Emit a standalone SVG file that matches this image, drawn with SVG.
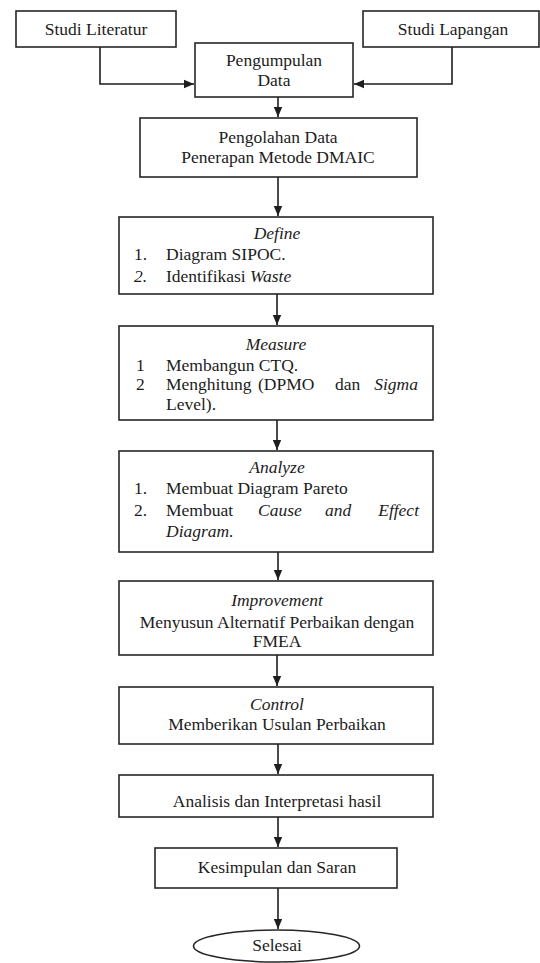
<svg xmlns="http://www.w3.org/2000/svg" width="540" height="963" viewBox="0 0 540 963">
  <style>
    .box { fill: #ffffff; stroke: #262626; stroke-width: 1.6; }
    .t { font-size: 17.5px; fill: #1c1c1c; }
    .c { text-anchor: middle; }
    .e { text-anchor: end; }
    .i { font-style: italic; }
    .conn { fill: none; stroke: #1e1e1e; stroke-width: 1.6; marker-end: url(#arrow); }
  </style>
  <defs>
    <marker id="arrow" markerUnits="userSpaceOnUse" markerWidth="10" markerHeight="10" viewBox="0 0 10 10" refX="10" refY="5" orient="auto">
      <path d="M0,0.8 L10,5 L0,9.2 Z" fill="#1e1e1e"/>
    </marker>
  </defs>
  <rect width="540" height="963" fill="#ffffff"/>

  <g id="connectors">
    <path class="conn" d="M100 47 V84 H194"/>
    <path class="conn" d="M452 47 V84 H354"/>
    <path class="conn" d="M278 97 V117"/>
    <path class="conn" d="M278 177 V216"/>
    <path class="conn" d="M277 294 V325"/>
    <path class="conn" d="M277 420 V450"/>
    <path class="conn" d="M278 552 V580"/>
    <path class="conn" d="M277 655 V686"/>
    <path class="conn" d="M278 744 V774"/>
    <path class="conn" d="M278 817 V847"/>
    <path class="conn" d="M278 888 V929"/>
  </g>

  <g font-family="Liberation Serif, DejaVu Serif, serif">
  <g id="studi-literatur">
    <rect class="box" x="16" y="11" width="160" height="36"/>
    <text class="t c" x="96" y="35">Studi Literatur</text>
  </g>

  <g id="studi-lapangan">
    <rect class="box" x="363" y="11" width="176" height="36"/>
    <text class="t c" x="453" y="35">Studi Lapangan</text>
  </g>

  <g id="pengumpulan-data">
    <rect class="box" x="195" y="43" width="158" height="54"/>
    <text class="t c" x="274" y="66">Pengumpulan</text>
    <text class="t c" x="274" y="86">Data</text>
  </g>

  <g id="pengolahan-data">
    <rect class="box" x="140" y="118" width="277" height="59"/>
    <text class="t c" x="278" y="143">Pengolahan Data</text>
    <text class="t c" x="278" y="163">Penerapan Metode DMAIC</text>
  </g>

  <g id="define">
    <rect class="box" x="119" y="217" width="314" height="77"/>
    <text class="t c i" x="277" y="239">Define</text>
    <text class="t" x="134" y="260">1.</text>
    <text class="t" x="166" y="260">Diagram SIPOC.</text>
    <text class="t i" x="134" y="282">2.</text>
    <text class="t" x="166" y="282">Identifikasi <tspan class="i">Waste</tspan></text>
  </g>

  <g id="measure">
    <rect class="box" x="119" y="326" width="314" height="94"/>
    <text class="t c i" x="276" y="350">Measure</text>
    <text class="t" x="136" y="371">1</text>
    <text class="t" x="166" y="371">Membangun CTQ.</text>
    <text class="t" x="136" y="390">2</text>
    <text class="t" x="166" y="390">Menghitung</text>
    <text class="t" x="258" y="390">(DPMO</text>
    <text class="t" x="335" y="390">dan</text>
    <text class="t e i" x="418" y="390">Sigma</text>
    <text class="t" x="166" y="410">Level).</text>
  </g>

  <g id="analyze">
    <rect class="box" x="119" y="451" width="314" height="101"/>
    <text class="t c i" x="277" y="473">Analyze</text>
    <text class="t" x="134" y="494">1.</text>
    <text class="t" x="166" y="494">Membuat Diagram Pareto</text>
    <text class="t" x="134" y="516">2.</text>
    <text class="t" x="166" y="516">Membuat</text>
    <text class="t i" x="258" y="516">Cause</text>
    <text class="t i" x="325" y="516">and</text>
    <text class="t e i" x="419" y="516">Effect</text>
    <text class="t i" x="166" y="537">Diagram.</text>
  </g>

  <g id="improvement">
    <rect class="box" x="119" y="581" width="314" height="74"/>
    <text class="t c i" x="277" y="606">Improvement</text>
    <text class="t c" x="277" y="628">Menyusun Alternatif Perbaikan dengan</text>
    <text class="t c" x="277" y="647">FMEA</text>
  </g>

  <g id="control">
    <rect class="box" x="119" y="687" width="314" height="57"/>
    <text class="t c i" x="277" y="710">Control</text>
    <text class="t c" x="277" y="730">Memberikan Usulan Perbaikan</text>
  </g>

  <g id="analisis">
    <rect class="box" x="119" y="775" width="314" height="42"/>
    <text class="t c" x="277" y="807">Analisis dan Interpretasi hasil</text>
  </g>

  <g id="kesimpulan">
    <rect class="box" x="155" y="848" width="242" height="40"/>
    <text class="t c" x="277" y="873">Kesimpulan dan Saran</text>
  </g>

  <g id="selesai">
    <ellipse class="box" cx="276.5" cy="946" rx="83" ry="16"/>
    <text class="t c" x="277" y="951">Selesai</text>
  </g>
  </g>
</svg>
